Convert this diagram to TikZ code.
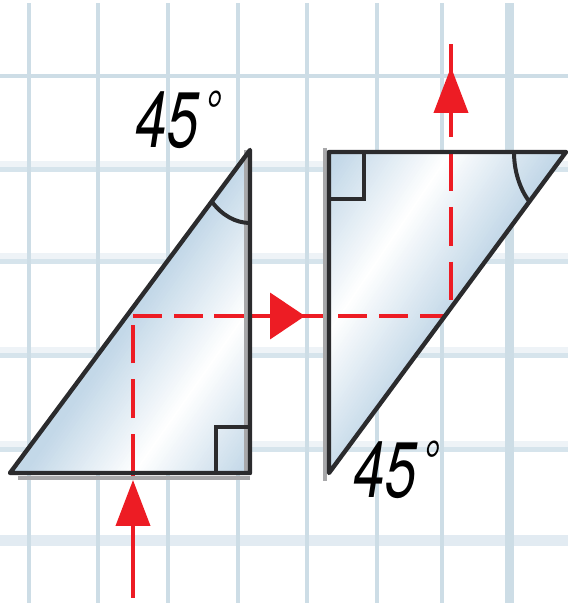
\documentclass[tikz,border=0pt]{standalone}
\usepackage{fontspec}
\setmainfont{TeX Gyre Heros}
\usepackage{graphicx}
\usetikzlibrary{arrows.meta}

\definecolor{gridblue}{HTML}{CDDDE6}
\definecolor{gridpale}{HTML}{EEF3F7}
\definecolor{gridmid}{HTML}{D6E4EC}
\definecolor{gridlow}{HTML}{E2EBF2}
\definecolor{sheenblue}{HTML}{C3D8E8}
\definecolor{edgedark}{HTML}{2B2B2D}
\definecolor{edgegray}{HTML}{A8A8AA}
\definecolor{rayred}{HTML}{ED1C24}

\newcommand{\anglelabel}{\scalebox{0.72}[1]{\itshape 45\hspace{6pt}\raisebox{12pt}{\fontsize{40}{40}\selectfont °}}}

\begin{document}
\begin{tikzpicture}[x=0.25cm, y=0.25cm,
  gridline/.style={gridblue, line width=1.1mm},
  gridrow/.style={gridmid, line width=1.25mm},
  gridglow/.style={gridpale, line width=1.5mm},
  edge/.style={edgedark, line width=1.1mm, line join=round},
  shadow/.style={edgegray, line width=1mm},
  anglemark/.style={edgedark, line width=1mm},
  strip/.style={line width=0.08cm},
  ray/.style={rayred, line width=1mm},
  rayh/.style={ray, dash pattern=on 0.725cm off 0.3cm},
  rayv/.style={ray, dash pattern=on 0.97cm off 0.4cm},
  tipv/.style={-{Triangle[length=1.15cm, width=0.85cm]}},
  tiph/.style={-{Triangle[length=0.875cm, width=1.15cm]}},
  degreelabel/.style={inner sep=0pt, font=\fontsize{56}{56}\selectfont}
]
\useasboundingbox (0,0) rectangle (56.8,60.3);

% grid paper
\foreach \y in {43.9, 34.65, 25.25, 15.85}
  \draw[gridglow] (0,\y) -- (56.8,\y);
\foreach \y in {43.35, 34.1, 24.75, 15.3}
  \draw[gridrow] (0,\y) -- (56.8,\y);
\draw[gridline] (0,52.7) -- (56.8,52.7);
\draw[gridlow, line width=2.75mm] (0,6.25) -- (56.8,6.25);
\foreach \x in {2.9, 9.8, 16.8, 23.8, 30.7, 37.7, 44.2}
  \draw[gridline] (\x,0) -- (\x,60.0);
\draw[gridline, line width=2.25mm] (50.9,0) -- (50.9,60.0);

% corners of the two triangles
\coordinate (A) at (1.0,13.0);
\coordinate (B) at (25.0,13.0);
\coordinate (C) at (25.0,45.3);
\coordinate (D) at (32.9,45.1);
\coordinate (E) at (56.6,45.1);
\coordinate (F) at (32.9,13.0);

% glass fill, a white sheen across each triangle
\begin{scope}
  \clip (A) -- (B) -- (C) -- cycle;
  \fill[sheenblue] (A) -- (B) -- (C) -- cycle;
  \foreach \d in {-10,-9.75,...,10}{
    \pgfmathsetmacro\sheen{min(100,abs(\d)/9*100)}
    \draw[strip, sheenblue!\sheen!white] (19.3,21.3) ++(-35:\d) ++(55:-30) -- ++(55:60);
  }
\end{scope}
\begin{scope}
  \clip (D) -- (E) -- (F) -- cycle;
  \fill[sheenblue] (D) -- (E) -- (F) -- cycle;
  \foreach \d in {-10,-9.75,...,10}{
    \pgfmathsetmacro\sheen{min(100,abs(\d)/9*100)}
    \draw[strip, sheenblue!\sheen!white] (38.85,35.8) ++(-34:\d) ++(56:-30) -- ++(56:60);
  }
\end{scope}

% light ray
\coordinate (Rs) at (13.3,0.5);
\coordinate (Rt) at (13.3,12.3);
\coordinate (Rb) at (13.3,13.0);
\coordinate (Rk) at (13.3,28.7);
\coordinate (Hl) at (21.4,28.7);
\coordinate (Ht) at (30.5,28.7);
\coordinate (Hr) at (32.3,28.7);
\coordinate (Rm) at (44.6,28.7);
\coordinate (Un) at (45.1,29.5);
\coordinate (Ud) at (45.1,45.1);
\coordinate (Us) at (45.1,46.6);
\coordinate (Ut) at (45.1,53.6);
\coordinate (Ue) at (45.1,55.9);

\draw[ray, tipv] (Rs) -- (Rt);
\draw[ray] (Rt) -- (Rb);
\draw[rayv] (Rb) -- (Rk);
\draw[rayh] (Rk) -- (Rm);
\draw[ray] (Hl) -- (Hr);
\draw[ray, tiph] (Hl) -- (Ht);
\draw[rayv] (Ud) -- (Un);
\draw[ray] (Us) -- (Ue);
\draw[ray, tipv] (Us) -- (Ut);

% outlines
\draw[shadow] (24.6,45.3) -- (24.6,13.0);
\draw[shadow] (1.8,12.5) -- (25.0,12.5);
\draw[shadow] (32.5,45.5) -- (32.5,12.2);
\draw[edge] (A) -- (B) -- (C) -- cycle;
\draw[edge] (D) -- (E) -- (F) -- cycle;

% angle marks
\draw[anglemark] (21.6,13.0) -- (21.6,17.6) -- (25.0,17.6);
\draw[anglemark] (32.9,40.4) -- (36.4,40.4) -- (36.4,45.1);
\draw[anglemark] (C) ++(0,-7.3) arc[start angle=270, end angle=225, x radius=5.4, y radius=7.3];
\draw[anglemark] (E) ++(-5.2,0) arc[start angle=180, end angle=225, x radius=5.2, y radius=7.0];

\node[degreelabel] (topangle) at (17.85,48.3) {\anglelabel};
\node[degreelabel] (lowangle) at (39.65,13.3) {\anglelabel};
\end{tikzpicture}
\end{document}
